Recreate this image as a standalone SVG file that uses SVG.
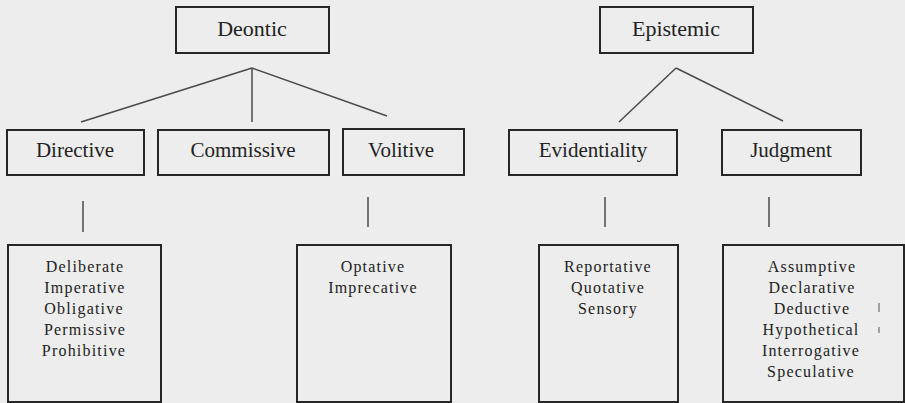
<svg xmlns="http://www.w3.org/2000/svg" width="905" height="403" viewBox="0 0 905 403">
<style>
.box{fill:none;stroke:#262626;stroke-width:2}
.conn{stroke:#4a4a4a;stroke-width:1.5;fill:none}
.h1{font-family:"Liberation Serif","Times New Roman",serif;font-size:22px;fill:#222;text-anchor:middle}
.h2{font-family:"Liberation Serif","Times New Roman",serif;font-size:21px;fill:#222;text-anchor:middle}
.li{font-family:"Liberation Serif","Times New Roman",serif;font-size:16px;letter-spacing:1.2px;fill:#222;text-anchor:middle}
</style>
<rect width="905" height="403" fill="#ededed"/>
<g id="connectors">
<line class="conn" x1="252" y1="68" x2="81" y2="122"/>
<line class="conn" x1="252" y1="68" x2="252" y2="122"/>
<line class="conn" x1="252" y1="68" x2="387" y2="116"/>
<line class="conn" x1="676" y1="68" x2="619" y2="122"/>
<line class="conn" x1="676" y1="68" x2="783" y2="121"/>
<line class="conn" x1="83" y1="201" x2="83" y2="232"/>
<line class="conn" x1="368" y1="197" x2="368" y2="227"/>
<line class="conn" x1="605" y1="197" x2="605" y2="227"/>
<line class="conn" x1="769" y1="197" x2="769" y2="227"/>
</g>
<g id="deontic"><rect class="box" x="176" y="7" width="153" height="46"/><text class="h1" x="252" y="36">Deontic</text></g>
<g id="epistemic"><rect class="box" x="600" y="7" width="153" height="46"/><text class="h1" x="676" y="36">Epistemic</text></g>
<g id="directive"><rect class="box" x="7" y="130" width="137" height="45"/><text class="h2" x="75" y="157">Directive</text></g>
<g id="commissive"><rect class="box" x="158" y="130" width="171" height="45"/><text class="h2" x="243" y="157">Commissive</text></g>
<g id="volitive"><rect class="box" x="343" y="129" width="121" height="46"/><text class="h2" x="401" y="157">Volitive</text></g>
<g id="evidentiality"><rect class="box" x="509" y="130" width="168" height="45"/><text class="h2" x="593" y="157">Evidentiality</text></g>
<g id="judgment"><rect class="box" x="722" y="130" width="139" height="45"/><text class="h2" x="791" y="157">Judgment</text></g>
<g id="directive-list"><rect class="box" x="8" y="245" width="153" height="157"/>
<text class="li" x="85" y="272">Deliberate</text>
<text class="li" x="85" y="293">Imperative</text>
<text class="li" x="84" y="314">Obligative</text>
<text class="li" x="85" y="335">Permissive</text>
<text class="li" x="84" y="356">Prohibitive</text></g>
<g id="volitive-list"><rect class="box" x="297" y="245" width="154" height="157"/>
<text class="li" x="373" y="272">Optative</text>
<text class="li" x="373" y="293">Imprecative</text></g>
<g id="evidentiality-list"><rect class="box" x="539" y="245" width="139" height="157"/>
<text class="li" x="608" y="272">Reportative</text>
<text class="li" x="608" y="293">Quotative</text>
<text class="li" x="608" y="314">Sensory</text></g>
<g id="judgment-list"><rect class="box" x="723" y="245" width="181" height="157"/>
<text class="li" x="812" y="272">Assumptive</text>
<text class="li" x="812" y="293">Declarative</text>
<text class="li" x="812" y="314">Deductive</text>
<text class="li" x="811" y="335">Hypothetical</text>
<text class="li" x="811" y="356">Interrogative</text>
<text class="li" x="811" y="377">Speculative</text></g>
<g id="marks" stroke="#555" stroke-width="1">
<line x1="879" y1="303" x2="879" y2="312"/>
<line x1="879" y1="327" x2="879" y2="333"/>
</g>
</svg>
